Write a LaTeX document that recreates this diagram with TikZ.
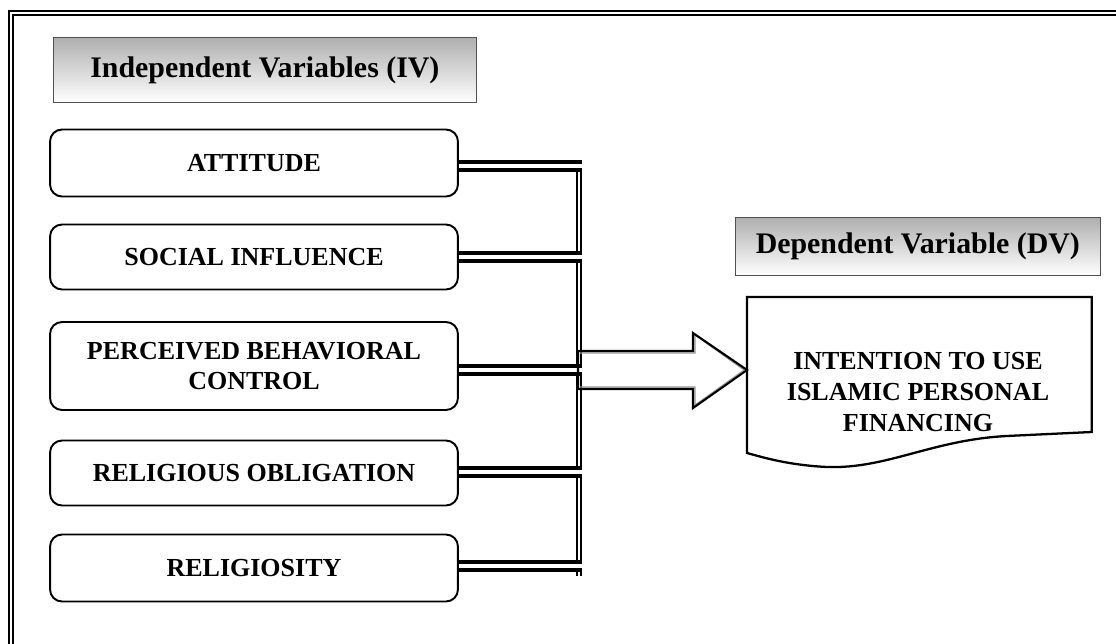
\documentclass[tikz,border=0pt]{standalone}
\usepackage{fontspec}
\setmainfont{Liberation Serif}
\usetikzlibrary{calc}
\definecolor{head-gray}{RGB}{175, 175, 175}
\definecolor{edge-gray}{RGB}{80, 80, 80}
\definecolor{shade-gray}{RGB}{150, 150, 150}

\begin{document}
\begin{tikzpicture}[x=0.02cm , y=-0.02cm,
	head/.style={draw=edge-gray , rectangle, top color=head-gray, bottom color=white, anchor=north west,
		inner sep=0pt, font=\fontsize{17}{20}\selectfont\bfseries},
	var/.style={draw , line width=1.1pt, rectangle, rounded corners=0.24cm, minimum width=8.16cm,
		align=center, font=\fontsize{14.8}{17.6}\selectfont\bfseries},
	link/.style={double , line width=2.3pt, double distance=2pt},
	bus/.style={double , line width=1.1pt, double distance=1.7pt}]
\useasboundingbox (0 ,0) rectangle (1116 ,643);
\clip (0 ,0) rectangle (1116 ,643);
% page frame, cut at the right and at the bottom
\draw [double , line width=1.1pt, double distance=1.2pt] (11 ,13) rectangle (1140 ,680);

% headings
\node [head , inner xsep=0.74cm, minimum height=1.3cm] (ivhead) at (53 ,37) {Independent Variables (IV)};
\node [head , minimum width=7.3cm, minimum height=1.16cm] (dvhead) at (735 ,217) {Dependent Variable (DV)};

% independent variables
\node [var , minimum height=1.34cm] (att) at (254 ,163) {ATTITUDE};
\node [var , minimum height=1.3cm] (soc) at (254 ,257) {SOCIAL INFLUENCE};
\node [var , minimum height=1.76cm] (pbc) at (254 ,366) {PERCEIVED BEHAVIORAL\\CONTROL};
\node [var , minimum height=1.3cm] (rob) at (254 ,473) {RELIGIOUS OBLIGATION};
\node [var , minimum height=1.34cm] (rel) at (254 ,568) {RELIGIOSITY};

\coordinate (bustop) at (579 ,160);
\coordinate (busbot) at (579 ,576);
\draw [bus] (bustop) -- (busbot);
\foreach \v/\dy in {att/3,soc/0,pbc/4,rob/-1,rel/-2}{
	\draw [link] ($(\v.east)+(0 ,\dy)$) -- ($(\v.east -| bustop)+(3 ,\dy)$);
}

% dependent variable
\node [minimum width=6.88cm, minimum height=2.7cm, anchor=north west] (intent) at (747 ,297) {};
\node [align=center, font=\fontsize{14.8}{17.6}\selectfont\bfseries] (intenttxt) at (918 ,392)
	{INTENTION TO USE\\ISLAMIC PERSONAL\\FINANCING};
\draw [line width=1.3pt] (intent.north west) -- (intent.north east) -- ($(intent.north east)+(0 ,135)$)
	-- ($(intent.north east)+(-85 ,139)$) .. controls ($(intent.north east)+(-160 ,143)$) and ($(intent.north west)+(140 ,172)$)
	.. ($(intent.north west)+(80 ,170)$) .. controls ($(intent.north west)+(40 ,168)$) and ($(intent.north west)+(15 ,160)$)
	.. ($(intent.north west)+(0 ,156)$) -- cycle;

% block arrow from the bus to the dependent variable
\coordinate (flowtail) at (578 ,370);
\draw [shade-gray , line width=0.6pt] ($(flowtail)+(2 ,-17)$) -- ($(flowtail)+(117 ,-17)$) -- ($(flowtail)+(117 ,-35)$)
	-- ($(intent.west |- flowtail)+(-3 ,0)$) -- ($(flowtail)+(117 ,35)$) -- ($(flowtail)+(117 ,17)$) -- ($(flowtail)+(2 ,17)$);
\draw [line width=1.2pt] (flowtail) -- ++(0 ,-19) -- ++(115 ,0) -- ++(0 ,-18) -- (intent.west |- flowtail)
	-- ($(flowtail)+(115 ,38)$) -- ++(0 ,-19) -- ++(-115 ,0) -- cycle;
\end{tikzpicture}
\end{document}
